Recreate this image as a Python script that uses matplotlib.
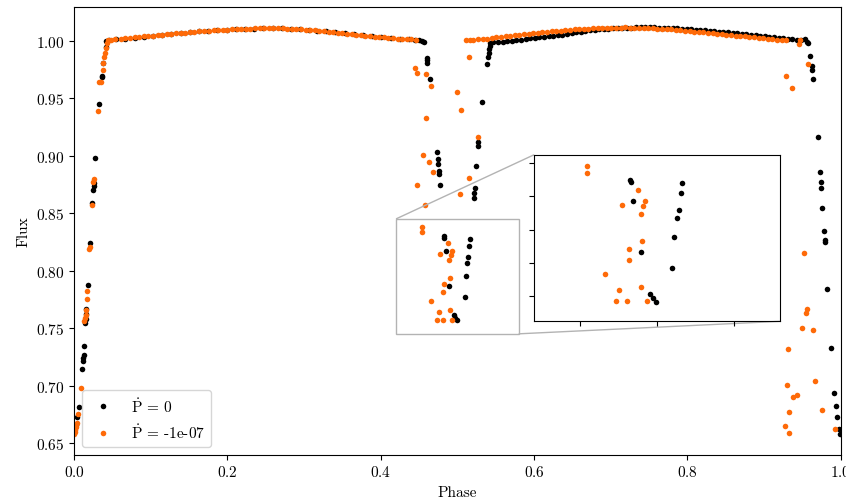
import numpy as np
import matplotlib
matplotlib.use("Agg")
import matplotlib.pyplot as plt
from mpl_toolkits.axes_grid1.inset_locator import mark_inset

plt.rcParams['font.family'] = 'serif'
plt.rcParams['font.serif'] = ['cmr10']
plt.rcParams['mathtext.fontset'] = 'cm'
plt.rcParams['axes.formatter.use_mathtext'] = True
plt.rcParams['font.size'] = 11

# ---- Pdot = 0 (black) ----
black_egress_phase = [0.0026, 0.0043, 0.0065, 0.0104, 0.0113, 0.0121, 0.0127, 0.0130, 0.0144, 0.0152,
                      0.0157, 0.0160, 0.0187, 0.0209, 0.0239, 0.0252, 0.0256, 0.0258, 0.0278, 0.0330,
                      0.0361, 0.0369, 0.0382, 0.0417]
black_egress_flux = [0.6655, 0.6730, 0.6814, 0.7142, 0.7214, 0.7243, 0.7263, 0.7344, 0.7547, 0.7582,
                     0.7625, 0.7663, 0.7871, 0.8242, 0.8590, 0.8706, 0.8734, 0.8764, 0.8980, 0.9453,
                     0.9685, 0.9696, 0.9806, 0.9950]

black_band1_phase = [0.042, 0.046, 0.055, 0.067, 0.079, 0.091, 0.103, 0.115, 0.126, 0.139,
                     0.151, 0.163, 0.175, 0.187, 0.199, 0.211, 0.223, 0.235, 0.247, 0.259,
                     0.271, 0.283, 0.295, 0.307, 0.317, 0.329, 0.341, 0.353, 0.365, 0.377,
                     0.389, 0.401, 0.413, 0.425, 0.437, 0.445, 0.450, 0.454, 0.456]
black_band1_flux = [0.9995, 1.0004, 1.0012, 1.0020, 1.0028, 1.0037, 1.0045, 1.0053, 1.0061, 1.0068,
                    1.0075, 1.0082, 1.0088, 1.0093, 1.0098, 1.0101, 1.0104, 1.0107, 1.0108, 1.0109,
                    1.0108, 1.0105, 1.0101, 1.0095, 1.0089, 1.0082, 1.0074, 1.0066, 1.0057, 1.0048,
                    1.0040, 1.0032, 1.0026, 1.0019, 1.0013, 1.0008, 1.0004, 1.0000, 0.9993]

black_sec_phase = [0.4600, 0.4605, 0.4610, 0.4643, 0.4739, 0.4745, 0.4752, 0.4760, 0.4765, 0.4774,
                   0.4824, 0.4829, 0.4846, 0.4894, 0.4956, 0.4971, 0.4993, 0.5094, 0.5113, 0.5130,
                   0.5141, 0.5154, 0.5163, 0.5217, 0.5217, 0.5226, 0.5247, 0.5266, 0.5274, 0.5318,
                   0.5391, 0.5400, 0.5408, 0.5417, 0.5426]
black_sec_flux = [0.9850, 0.9830, 0.9810, 0.9670, 0.9030, 0.8974, 0.8927, 0.8863, 0.8843, 0.8743,
                  0.8300, 0.8284, 0.8170, 0.7868, 0.7613, 0.7592, 0.7568, 0.7770, 0.7954, 0.8070,
                  0.8116, 0.8218, 0.8278, 0.8633, 0.8677, 0.8720, 0.8914, 0.9082, 0.9116, 0.9464,
                  0.9800, 0.9858, 0.9893, 0.9928, 0.9957]

black_band2_phase = [0.543, 0.547, 0.553, 0.559, 0.565, 0.571, 0.577, 0.583, 0.589, 0.595,
                     0.601, 0.607, 0.613, 0.619, 0.625, 0.631, 0.637, 0.643, 0.649, 0.655,
                     0.661, 0.667, 0.673, 0.679, 0.685, 0.691, 0.697, 0.703, 0.709, 0.715,
                     0.721, 0.727, 0.733, 0.739, 0.745, 0.751, 0.757, 0.763, 0.769, 0.775,
                     0.781, 0.787, 0.793, 0.799, 0.805, 0.811, 0.817, 0.823, 0.829, 0.835,
                     0.841, 0.847, 0.853, 0.859, 0.865, 0.871, 0.877, 0.883, 0.889, 0.895,
                     0.901, 0.907, 0.913, 0.919, 0.925, 0.931, 0.937, 0.943, 0.948, 0.9534,
                     0.9556, 0.9578]
black_band2_flux = [0.9982, 0.9986, 0.9989, 0.9992, 0.9996, 1.0001, 1.0006, 1.0011, 1.0016, 1.0021,
                    1.0025, 1.0030, 1.0034, 1.0038, 1.0042, 1.0047, 1.0053, 1.0060, 1.0067, 1.0074,
                    1.0081, 1.0087, 1.0093, 1.0097, 1.0101, 1.0104, 1.0107, 1.0109, 1.0111, 1.0113,
                    1.0114, 1.0115, 1.0116, 1.0117, 1.0117, 1.0117, 1.0116, 1.0115, 1.0114, 1.0112,
                    1.0110, 1.0108, 1.0105, 1.0102, 1.0099, 1.0096, 1.0093, 1.0090, 1.0086, 1.0083,
                    1.0080, 1.0076, 1.0073, 1.0070, 1.0066, 1.0062, 1.0058, 1.0054, 1.0050, 1.0046,
                    1.0041, 1.0037, 1.0032, 1.0028, 1.0023, 1.0019, 1.0015, 1.0011, 1.0008, 1.0015,
                    0.9994, 0.9980]

black_ingress_phase = [0.9600, 0.9622, 0.9626, 0.9634, 0.9700, 0.9730, 0.9739, 0.9743, 0.9760, 0.9780,
                       0.9790, 0.9792, 0.9826, 0.9870, 0.9917, 0.9934, 0.9948, 0.9978, 0.9987]
black_ingress_flux = [0.9864, 0.9777, 0.9748, 0.9670, 0.9160, 0.8859, 0.8775, 0.8720, 0.8543, 0.8347,
                      0.8265, 0.8248, 0.7837, 0.7324, 0.6939, 0.6823, 0.6722, 0.6620, 0.6577]

# ---- Pdot = -1e-07 (orange) ----
orange_egress_phase = [0.0005, 0.0010, 0.0018, 0.0030, 0.0040, 0.0057, 0.0087, 0.0130, 0.0140, 0.0150,
                       0.0157, 0.0165, 0.0174, 0.0200, 0.0209, 0.0231, 0.0252, 0.0256, 0.0317, 0.0330,
                       0.0348, 0.0373, 0.0382, 0.0390, 0.0404, 0.0415, 0.0426]
orange_egress_flux = [0.6575, 0.6595, 0.6612, 0.6640, 0.6675, 0.6750, 0.6977, 0.7560, 0.7590, 0.7617,
                      0.7659, 0.7749, 0.7826, 0.8184, 0.8208, 0.8575, 0.8769, 0.8798, 0.9386, 0.9646,
                      0.9646, 0.9748, 0.9806, 0.9859, 0.9898, 0.9940, 0.9980]

orange_band1_phase = [0.0447, 0.048, 0.054, 0.061, 0.067, 0.073, 0.079, 0.085, 0.091, 0.097,
                      0.103, 0.109, 0.115, 0.121, 0.127, 0.133, 0.139, 0.145, 0.151, 0.157,
                      0.163, 0.170, 0.176, 0.182, 0.188, 0.194, 0.200, 0.206, 0.212, 0.218,
                      0.224, 0.230, 0.236, 0.242, 0.248, 0.254, 0.260, 0.266, 0.272, 0.278,
                      0.284, 0.290, 0.296, 0.302, 0.308, 0.314, 0.320, 0.326, 0.332, 0.338,
                      0.344, 0.350, 0.356, 0.362, 0.368, 0.374, 0.380, 0.386, 0.392, 0.398,
                      0.404, 0.410, 0.416, 0.422, 0.428, 0.434, 0.440, 0.446]
orange_band1_flux = [1.0003, 1.0009, 1.0013, 1.0017, 1.0021, 1.0025, 1.0029, 1.0033, 1.0038, 1.0041,
                     1.0045, 1.0049, 1.0053, 1.0058, 1.0061, 1.0065, 1.0069, 1.0072, 1.0076, 1.0079,
                     1.0082, 1.0086, 1.0088, 1.0091, 1.0093, 1.0096, 1.0098, 1.0100, 1.0102, 1.0103,
                     1.0105, 1.0106, 1.0108, 1.0108, 1.0109, 1.0109, 1.0110, 1.0108, 1.0108, 1.0106,
                     1.0104, 1.0103, 1.0100, 1.0098, 1.0095, 1.0091, 1.0088, 1.0085, 1.0080, 1.0077,
                     1.0072, 1.0068, 1.0063, 1.0059, 1.0054, 1.0050, 1.0045, 1.0041, 1.0037, 1.0033,
                     1.0029, 1.0026, 1.0023, 1.0020, 1.0017, 1.0014, 1.0012, 1.0009]

orange_sec_phase = [0.4448, 0.4470, 0.4591, 0.4652, 0.4591, 0.4556, 0.4634, 0.4678, 0.4478, 0.4578,
                    0.4545, 0.4545, 0.4878, 0.4924, 0.4772, 0.4911, 0.4894, 0.4903, 0.4820, 0.4818,
                    0.4662, 0.4898, 0.4755, 0.4731, 0.4807, 0.4935, 0.5035, 0.5152, 0.5273, 0.5048,
                    0.4995, 0.5156]
orange_sec_flux = [0.9763, 0.9719, 0.9713, 0.9603, 0.9331, 0.9003, 0.8943, 0.8859, 0.8743, 0.8569,
                   0.8384, 0.8340, 0.8240, 0.8174, 0.8148, 0.8140, 0.8092, 0.7934, 0.7883, 0.7818,
                   0.7734, 0.7658, 0.7637, 0.7571, 0.7571, 0.7571, 0.8671, 0.8807, 0.9160, 0.9394,
                   0.9551, 0.9861]

orange_band2_phase = [0.511, 0.516, 0.521, 0.527, 0.533, 0.539, 0.545, 0.551, 0.557, 0.563,
                      0.569, 0.575, 0.581, 0.587, 0.593, 0.599, 0.605, 0.611, 0.617, 0.623,
                      0.629, 0.635, 0.641, 0.647, 0.653, 0.659, 0.665, 0.671, 0.677, 0.683,
                      0.689, 0.695, 0.701, 0.707, 0.713, 0.719, 0.725, 0.731, 0.737, 0.743,
                      0.749, 0.755, 0.761, 0.767, 0.773, 0.779, 0.785, 0.791, 0.797, 0.803,
                      0.809, 0.815, 0.821, 0.827, 0.833, 0.839, 0.845, 0.851, 0.857, 0.863,
                      0.869, 0.875, 0.881, 0.887, 0.893, 0.899, 0.905, 0.911, 0.917, 0.923,
                      0.929]
orange_band2_flux = [1.0006, 1.0009, 1.0011, 1.0014, 1.0017, 1.0020, 1.0025, 1.0030, 1.0035, 1.0040,
                     1.0044, 1.0049, 1.0054, 1.0058, 1.0062, 1.0066, 1.0070, 1.0075, 1.0078, 1.0082,
                     1.0085, 1.0089, 1.0093, 1.0096, 1.0099, 1.0101, 1.0104, 1.0107, 1.0108, 1.0110,
                     1.0112, 1.0113, 1.0114, 1.0115, 1.0115, 1.0116, 1.0113, 1.0114, 1.0111, 1.0112,
                     1.0108, 1.0108, 1.0104, 1.0104, 1.0099, 1.0099, 1.0094, 1.0093, 1.0088, 1.0086,
                     1.0081, 1.0079, 1.0073, 1.0071, 1.0065, 1.0063, 1.0057, 1.0055, 1.0049, 1.0046,
                     1.0040, 1.0038, 1.0032, 1.0030, 1.0024, 1.0022, 1.0016, 1.0014, 1.0009, 1.0007,
                     1.0003]

orange_ingress_phase = [0.9470, 0.9460, 0.9580, 0.9287, 0.9360, 0.9525, 0.9556, 0.9548, 0.9491, 0.9643,
                        0.9317, 0.9296, 0.9374, 0.9434, 0.9661, 0.9330, 0.9760, 0.9274, 0.9330, 0.9926]
orange_ingress_flux = [1.0010, 0.9974, 0.9798, 0.9690, 0.9590, 0.8150, 0.7669, 0.7634, 0.7498, 0.7480,
                       0.7315, 0.7003, 0.6901, 0.6916, 0.7040, 0.6770, 0.6788, 0.6649, 0.6586, 0.6620]

labels = [r'$\dot{\mathrm{P}}$ = 0', r'$\dot{\mathrm{P}}$ = -1e-07']
colors = ['k', '#fe6a08']

black_phase = np.concatenate([black_egress_phase, black_band1_phase, black_sec_phase,
                              black_band2_phase, black_ingress_phase])
black_flux = np.concatenate([black_egress_flux, black_band1_flux, black_sec_flux,
                             black_band2_flux, black_ingress_flux])
orange_phase = np.concatenate([orange_egress_phase, orange_band1_phase, orange_sec_phase,
                               orange_band2_phase, orange_ingress_phase])
orange_flux = np.concatenate([orange_egress_flux, orange_band1_flux, orange_sec_flux,
                              orange_band2_flux, orange_ingress_flux])

fig = plt.figure(figsize=(8.46, 5.02), dpi=100)
ax = fig.add_axes([0.0875, 0.0922, 0.9062, 0.8918])

ax.plot(black_phase, black_flux, 'o', color=colors[0], ms=4, mew=0, label=labels[0])
ax.plot(orange_phase, orange_flux, 'o', color=colors[1], ms=4, mew=0, label=labels[1])
ax.set_xlim(0, 1)
ax.set_xlabel('Phase')
ax.set_ylabel('Flux')
ax.legend(loc='lower left')

# zoom on the secondary eclipse
axins = ax.inset_axes([0.600, 0.298, 0.321, 0.372])
axins.plot(black_phase, black_flux, 'o', color=colors[0], ms=4, mew=0)
axins.plot(orange_phase, orange_flux, 'o', color=colors[1], ms=4, mew=0)
axins.set_xlim(0.42, 0.58)
axins.set_ylim(0.745, 0.845)
axins.set_xticks([0.45, 0.50, 0.55])
axins.set_yticks([0.76, 0.78, 0.80, 0.82, 0.84])
axins.tick_params(labelleft=False, labelbottom=False)
mark_inset(ax, axins, loc1=2, loc2=4, fc='none', ec='0.7')

fig.savefig('out.png', dpi=100)
